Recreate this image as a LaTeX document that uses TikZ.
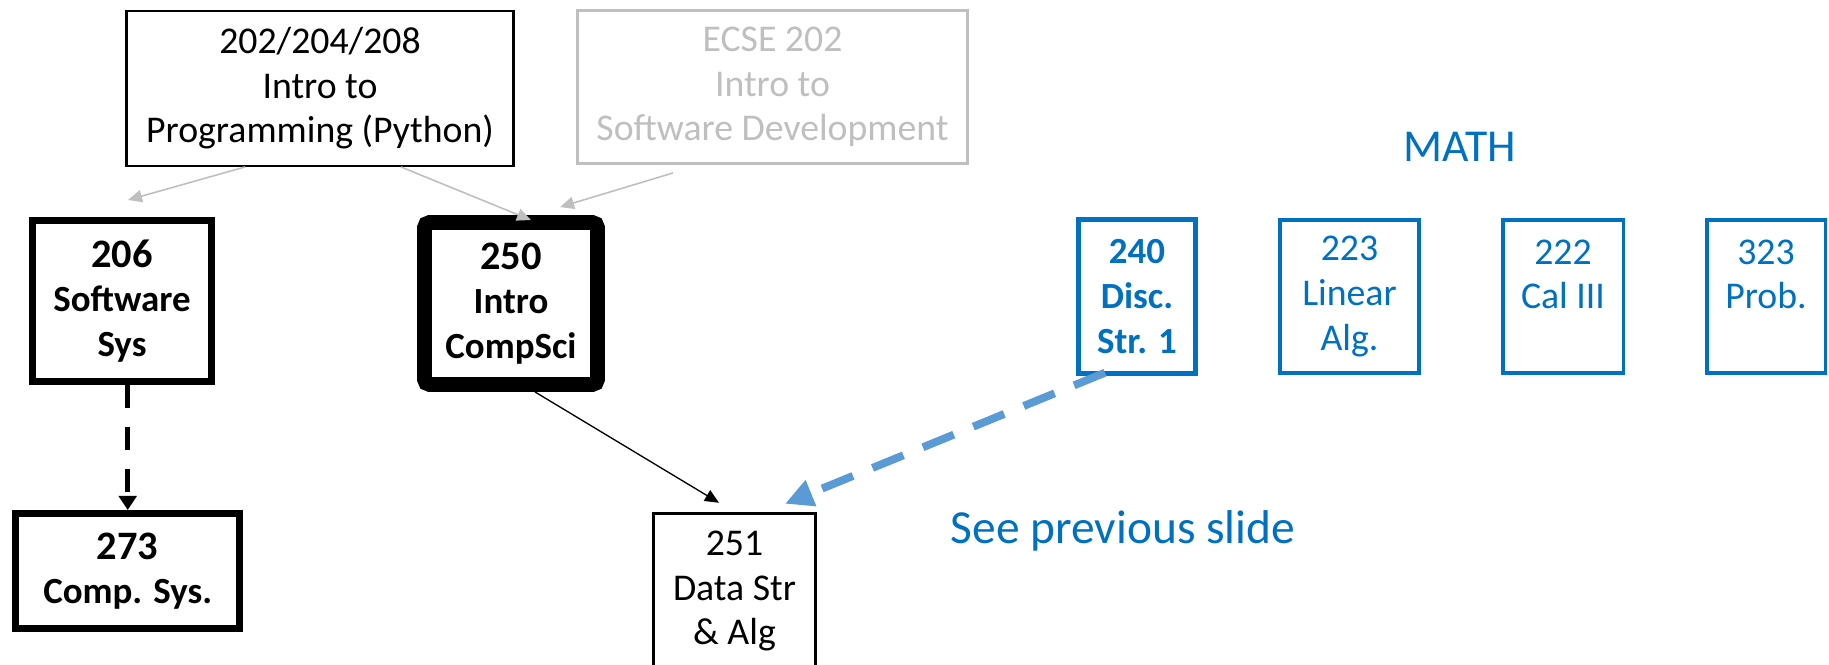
\documentclass[tikz,border=0pt]{standalone}
\usepackage{fontspec}
\setmainfont{Carlito}
\usetikzlibrary{arrows.meta}
\definecolor{MathBlue}{HTML}{0070C0}
\definecolor{LinkBlue}{HTML}{5B9BD5}
\definecolor{FadeGray}{HTML}{BFBFBF}

\begin{document}
\begin{tikzpicture}[x=0.02cm,y=-0.02cm,
        course/.style={draw,align=center,inner sep=0pt,
          font=\fontsize{21.5}{25.4}\selectfont},
        core/.style={course,line width=4pt,
          font=\bfseries\fontsize{21}{25.4}\selectfont},
        mathcourse/.style={course,draw=MathBlue,text=MathBlue,line width=2pt,
          minimum height=3.07cm},
        prereq/.style={-{Triangle[length=8pt,width=7pt]},draw=FadeGray,line width=0.9pt},
        flow/.style={-{Triangle[length=8pt,width=7pt]},line width=0.75pt},
        recommend/.style={-{Triangle[length=16pt,width=15pt]},draw=LinkBlue,
          line width=4.5pt,dash pattern=on 19pt off 12pt},
        heading/.style={text=MathBlue,font=\fontsize{26}{31}\selectfont}
      ]
        \useasboundingbox (0,0) rectangle (1829,665);
        % intro courses
        \node[course,line width=1.4pt,minimum width=7.75cm,minimum height=3.09cm]
          (intro) at (320,88.5)
          {202/204/208\\Intro to\\Programming (Python)};
        \node[course,draw=FadeGray,text=FadeGray,line width=1.7pt,
          minimum width=7.8cm,minimum height=3.08cm] (ecse) at (772.5,87)
          {ECSE 202\\Intro to\\Software Development};
        % core courses
        \node[core,minimum width=3.58cm,minimum height=3.22cm] (sys) at (122,301)
          {{\fontsize{23}{25.4}\selectfont 206}\\Software\\Sys};
        \node[core,line width=8.5pt,rounded corners=3pt,
          minimum width=3.46cm,minimum height=3.24cm] (cs) at (511,303.5)
          {{\fontsize{23}{25.4}\selectfont 250}\\Intro\\CompSci};
        \node[core,minimum width=4.47cm,minimum height=2.3cm] (comp) at (127.7,571)
          {{\fontsize{23}{25.4}\selectfont 273}\\Comp. Sys.};
        \node[course,line width=1.7pt,minimum width=3.24cm,minimum height=3.11cm]
          (ds) at (734.5,591) {251\\Data Str\\\& Alg};
        % math courses
        \node[heading] (mathhead) at (1460,147) {MATH};
        \node[mathcourse,line width=2.8pt,minimum width=2.34cm,font=\bfseries\fontsize{21}{25.4}\selectfont]
          (disc) at (1137,296.5) {240\\Disc.\\Str. 1};
        \node[mathcourse,minimum width=2.79cm] (linalg) at (1349.5,296.5)
          {223\\Linear\\Alg.};
        \node[mathcourse,minimum width=2.41cm] (cal) at (1563,296.5)
          {222\\Cal III\\\mbox{}};
        \node[mathcourse,minimum width=2.37cm] (prob) at (1766,296.5)
          {323\\Prob.\\\mbox{}};
        \node[heading,font=\fontsize{27}{32}\selectfont] (seeprev) at (1123,531)
          {See previous slide};
        % prerequisites
        \draw[prereq] ([xshift=-1.5cm]intro.south)
          -- ([xshift=0.12cm,yshift=0.34cm]sys.north);
        \draw[prereq] ([xshift=1.62cm]intro.south)
          -- ([xshift=0.4cm,yshift=-0.1cm]cs.north);
        \draw[prereq] ([xshift=-1.99cm,yshift=-0.15cm]ecse.south)
          -- ([xshift=0.98cm,yshift=0.16cm]cs.north);
        \draw[-{Triangle[length=8pt,width=10pt]},line width=2.8pt,
          dash pattern=on 13pt off 11pt] (comp.north |- sys.south) -- (comp.north);
        \draw[flow] ([xshift=0.48cm]cs.south)
          -- ([xshift=-0.31cm,yshift=0.18cm]ds.north);
        \draw[recommend] ([xshift=-0.64cm,yshift=0.06cm]disc.south)
          -- ([xshift=1.01cm,yshift=0.16cm]ds.north);
      \end{tikzpicture}
\end{document}
